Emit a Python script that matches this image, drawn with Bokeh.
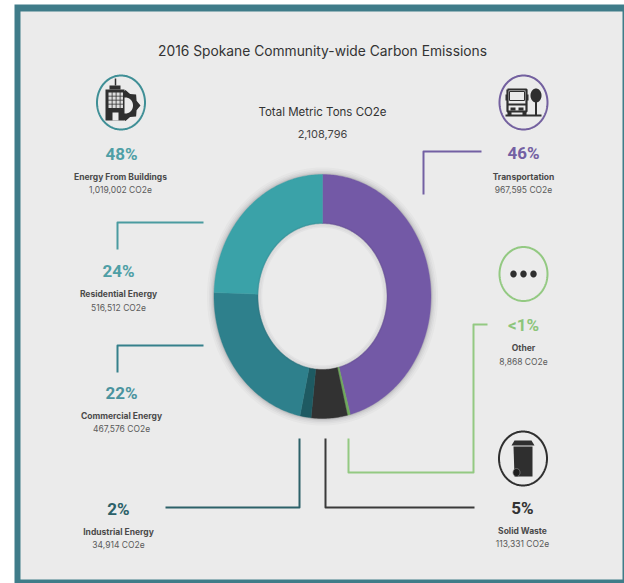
from math import cos, sin, pi

from bokeh.core.properties import value
from bokeh.embed import file_html
from bokeh.models import Range1d
from bokeh.plotting import figure
from bokeh.resources import INLINE

WIDTH, HEIGHT = 624, 583

# Emissions by sector, clockwise from twelve o'clock
sectors = ["Transportation", "Other", "Solid Waste", "Industrial Energy", "Commercial Energy", "Residential Energy"]
emissions = [967595, 8868, 113331, 34914, 467576, 516512]
shares = ["46%", "<1%", "5%", "2%", "22%", "24%"]
amounts = ["967,595 CO2e", "8,868 CO2e", "113,331 CO2e", "34,914 CO2e", "467,576 CO2e", "516,512 CO2e"]
slice_colors = ["#7359a6", "#6fa85c", "#323232", "#1e5a62", "#2e808c", "#3aa2a8"]

title_text = "2016 Spokane Community-wide Carbon Emissions"
total_label = "Total Metric Tons CO2e"
total_value = "2,108,796"
group_share = "48%"
group_name = "Energy From Buildings"
group_amount = "1,019,002 CO2e"

FONT = value("Inter")
SHARE_FONT = value("Roboto")
BG = "#ebebeb"
FRAME = "#3f7c89"
INK = "#2f2f2f"

CX, CY = 322, 296
RX_OUT, RY_OUT = 108.5, 122
RX_IN, RY_IN = 64.5, 73

p = figure(width=WIDTH, height=HEIGHT, output_backend="svg", toolbar_location=None,
           x_range=Range1d(0, WIDTH), y_range=Range1d(HEIGHT, 0),
           x_axis_location=None, y_axis_location=None, min_border=0,
           background_fill_color="white", border_fill_color="white", outline_line_color=None)
p.grid.visible = False

# Frame and panel
p.quad(left=[14], right=[WIDTH], top=[4], bottom=[HEIGHT], fill_color=FRAME, line_color=None)
p.quad(left=[20], right=[622], top=[11], bottom=[579], fill_color=BG, line_color=None)


def ellipse_points(cx, cy, rx, ry, n=180):
    ts = [2 * pi * i / n for i in range(n + 1)]
    return [cx + rx * sin(t) for t in ts], [cy - ry * cos(t) for t in ts]


# Soft shadow hugging the ring on both edges
for grow, alpha in [(7, 0.03), (5, 0.04), (3.5, 0.05), (2, 0.07), (1, 0.09)]:
    xs, ys = ellipse_points(CX, CY, RX_OUT + grow, RY_OUT + grow)
    p.patch(xs, ys, fill_color="#333344", fill_alpha=alpha, line_color=None)
xs, ys = ellipse_points(CX, CY, RX_IN, RY_IN)
p.patch(xs, ys, fill_color=BG, line_color=None)

# Ring slices, each swept in proportion to its emissions
total = sum(emissions)
start = 0.0
wedge_x, wedge_y = [], []
for amount in emissions:
    stop = start + 2 * pi * amount / total
    steps = max(3, int((stop - start) * 60))
    ts = [start + (stop - start) * i / steps for i in range(steps + 1)]
    wedge_x.append([CX + RX_OUT * sin(t) for t in ts] + [CX + RX_IN * sin(t) for t in reversed(ts)])
    wedge_y.append([CY - RY_OUT * cos(t) for t in ts] + [CY - RY_IN * cos(t) for t in reversed(ts)])
    start = stop
p.patches(wedge_x, wedge_y, fill_color=slice_colors, line_color=slice_colors, line_width=0.4)

# Inner glow of the hole
for shrink, alpha in [(1, 0.07), (2.5, 0.05), (4, 0.04)]:
    xs, ys = ellipse_points(CX, CY, RX_IN - shrink + 1, RY_IN - shrink + 1)
    p.line(xs, ys, line_color="#333344", line_alpha=alpha, line_width=2.5)

# Leader lines from the ring to each label
leaders = [
    ([481, 423, 423], [151, 151, 194], "#7360a3"),
    ([487, 473, 473, 348, 348], [324, 324, 472, 472, 438], "#93c982"),
    ([325, 325, 474], [438, 507, 507], "#3a3a3a"),
    ([299, 299, 165], [438, 507, 507], "#2c6169"),
    ([203, 117, 117], [345, 345, 372], "#35808b"),
    ([203, 117, 117], [222, 222, 249], "#4a9ba0"),
]
for lx, ly, color in leaders:
    p.line(lx, ly, line_color=color, line_width=2, line_join="round")


def put_text(x, y, text, size, color, weight="normal", font=FONT):
    p.text([x], [y], text=[text], text_font=font, text_font_size=size, text_color=color,
           text_font_style=weight, text_align="center", text_baseline="middle")


put_text(322, 50, title_text, "13.8px", "#333333")
put_text(322, 111, total_label, "11.5px", "#333333")
put_text(322, 133, total_value, "11px", "#444444")

# Sector labels: share, name, amount
share_colors = ["#7360a3", "#8cc57a", "#333333", "#2c6169", "#4a939e", "#4f9fa6"]
label_pos = [(523, 152, 176, 189), (523, 324, 347, 361), (522, 507, 530, 543),
             (118, 508, 531, 544), (121, 392, 415, 428), (118, 270, 293, 307)]
for i, (x, y1, y2, y3) in enumerate(label_pos):
    put_text(x, y1, shares[i], "17px", share_colors[i], "bold", SHARE_FONT)
    put_text(x, y2, sectors[i], "8.5px", "#4a4a4a", "bold")
    put_text(x, y3, amounts[i], "8.5px", "#5a5a5a")
put_text(121, 153, group_share, "17px", "#4f9fa6", "bold", SHARE_FONT)
put_text(120, 176, group_name, "8.5px", "#4a4a4a", "bold")
put_text(120, 189, group_amount, "8.5px", "#5a5a5a")

# Icon rings
icon_rings = [(120.5, 102, "#3f8f96"), (523, 102, "#73609f"), (523, 273.5, "#93c982"), (522.5, 458, "#2f2f2f")]
for ix, iy, color in icon_rings:
    xs, ys = ellipse_points(ix, iy, 24, 27)
    p.line(xs, ys, line_color=color, line_width=2)

# Building with cog
cog_x, cog_y = [], []
for k in range(16):
    t = 2 * pi * k / 16
    r = 1.0 if k % 2 == 0 else 0.8
    cog_x.append(125 + 15 * r * sin(t))
    cog_y.append(105 - 15.5 * r * cos(t))
p.patch(cog_x, cog_y, fill_color=INK, line_color=None)
xs, ys = ellipse_points(125, 105, 7.5, 8)
p.patch(xs, ys, fill_color=BG, line_color=None)
p.quad(left=[105], right=[124], top=[89], bottom=[120], fill_color=INK, line_color=None)
p.quad(left=[109], right=[120], top=[85], bottom=[89], fill_color=INK, line_color=None)
p.segment([115], [78], [115], [85], line_color=INK, line_width=1.5)
p.quad(left=[108, 112, 116, 120] * 4, right=[111.2, 115.2, 119.2, 122.5] * 4,
       top=[92] * 4 + [96] * 4 + [100] * 4 + [104] * 4,
       bottom=[95.2] * 4 + [99.2] * 4 + [103.2] * 4 + [107.5] * 4,
       fill_color="#dcdcdc", line_color=None)
p.quad(left=[112], right=[118], top=[112], bottom=[120], fill_color=BG, line_color=None)

# Bus and street tree
p.line([505, 541], [115, 115], line_color=INK, line_width=2)
p.line([507, 507, 526, 526, 507], [89, 111, 111, 89, 89], line_color=INK, line_width=2.2)
p.quad(left=[505, 526.5], right=[506.5, 528], top=[94, 94], bottom=[100, 100], fill_color=INK, line_color=None)
p.quad(left=[509], right=[524], top=[91], bottom=[100], fill_color=BG, line_color=INK, line_width=1)
p.quad(left=[507], right=[526], top=[103], bottom=[105], fill_color=INK, line_color=None)
p.quad(left=[510, 518], right=[515, 523], top=[107, 107], bottom=[110, 110], fill_color=INK, line_color=None)
p.quad(left=[507, 522], right=[511, 526], top=[111, 111], bottom=[115, 115], fill_color=INK, line_color=None)
xs, ys = ellipse_points(535.5, 95, 5.5, 7)
p.patch(xs, ys, fill_color=INK, line_color=None)
p.segment([535.5], [98], [535.5], [115], line_color=INK, line_width=2)

# Three dots
for dx in (513, 523, 533):
    xs, ys = ellipse_points(dx, 273.5, 3.2, 3.5)
    p.patch(xs, ys, fill_color=INK, line_color=None)

# Wheeled bin
p.patch([514, 531, 534, 511], [440, 440, 445, 445], fill_color=INK, line_color=None)
p.patch([513, 532, 532, 514], [446, 446, 476, 476], fill_color=INK, line_color=None)
xs, ys = ellipse_points(516, 472, 3.5, 4)
p.patch(xs, ys, fill_color="#1f1f1f", line_color="#8a8a8a", line_width=0.8)

open("out.html", "w").write(file_html(p, INLINE))
